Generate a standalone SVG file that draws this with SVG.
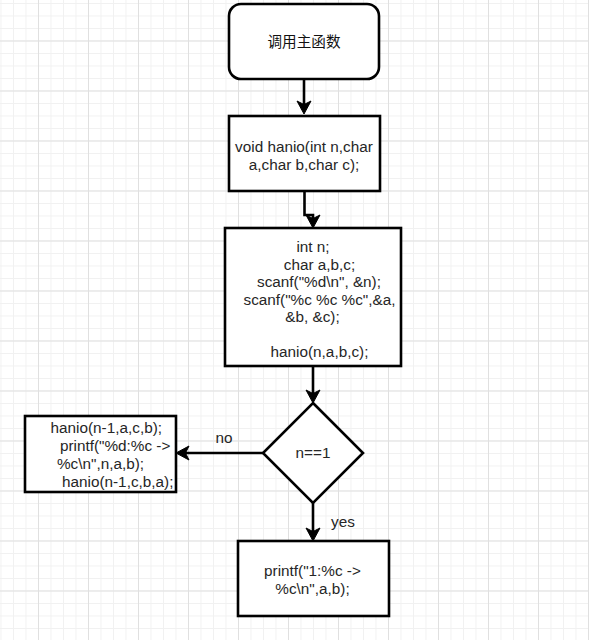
<svg xmlns="http://www.w3.org/2000/svg" width="589" height="640" viewBox="0 0 589 640">
<style>
.box{fill:#ffffff;stroke:#000000;stroke-width:2.6}
.edge{fill:none;stroke:#000000;stroke-width:2.6}
.t{font-family:"Liberation Sans",Arial,"Noto Sans CJK SC",sans-serif;font-size:15.3px;fill:#262626;text-anchor:middle}
.cjk{font-family:"Noto Sans CJK SC","Liberation Sans",sans-serif;font-size:14.6px;fill:#111111;text-anchor:middle}
</style>
<defs>
<pattern id="minor" patternUnits="userSpaceOnUse" x="38" y="40.5" width="12.5" height="12.5">
<path d="M0.5,0 V12.5 M0,0.5 H12.5" stroke="#f1f1f1" stroke-width="1" fill="none"/>
</pattern>
<pattern id="major" patternUnits="userSpaceOnUse" x="38" y="40.5" width="50" height="50">
<path d="M0.5,0 V50 M0,0.5 H50" stroke="#e0e0e0" stroke-width="1" fill="none"/>
</pattern>
<marker id="arr" markerUnits="userSpaceOnUse" markerWidth="16" markerHeight="16" viewBox="0 0 16 16" refX="6" refY="8" orient="auto">
<path d="M2,1 L15,8 L2,15 L5.5,8 Z" fill="#000000" stroke="#000000" stroke-width="1" stroke-linejoin="miter"/>
</marker>
</defs>
<rect width="589" height="640" fill="#ffffff"/>
<rect width="589" height="640" fill="url(#minor)"/>
<rect width="589" height="640" fill="url(#major)"/>

<g id="connectors">
<path class="edge" d="M304,80 V105" marker-end="url(#arr)"/>
<path class="edge" d="M304.5,191 V215 H313 V219" marker-end="url(#arr)"/>
<path class="edge" d="M313,366 V394" marker-end="url(#arr)"/>
<path class="edge" d="M263,453 H185" marker-end="url(#arr)"/>
<path class="edge" d="M313,503 V532" marker-end="url(#arr)"/>
<text class="t" x="224" y="443">no</text>
<text class="t" x="343" y="527">yes</text>
</g>

<g id="start">
<rect class="box" x="229" y="4" width="150" height="75" rx="12" ry="12"/>
<text class="cjk" x="304" y="47">调用主函数</text>
</g>

<g id="decl">
<rect class="box" x="229" y="116" width="151" height="75"/>
<text class="t" x="304" y="152">void hanio(int n,char</text>
<text class="t" x="304" y="170">a,char b,char c);</text>
</g>

<g id="main">
<rect class="box" x="225" y="228" width="176" height="138"/>
<text class="t" x="313" y="252">int n;</text>
<text class="t" x="319.5" y="269.5">char a,b,c;</text>
<text class="t" x="319" y="287">scanf("%d\n", &amp;n);</text>
<text class="t" x="319.5" y="304.5">scanf("%c %c %c",&amp;a,</text>
<text class="t" x="312.5" y="322">&amp;b, &amp;c);</text>
<text class="t" x="319.5" y="357">hanio(n,a,b,c);</text>
</g>

<g id="cond">
<path class="box" d="M313,403 L363,453 L313,503 L263,453 Z"/>
<text class="t" x="313" y="458">n==1</text>
</g>

<g id="recurse">
<rect class="box" x="25" y="416" width="151" height="76"/>
<text class="t" x="106.3" y="433">hanio(n-1,a,c,b);</text>
<text class="t" x="115.2" y="451">printf("%d:%c -&gt;</text>
<text class="t" x="100.5" y="469">%c\n",n,a,b);</text>
<text class="t" x="117.7" y="487">hanio(n-1,c,b,a);</text>
</g>

<g id="base">
<rect class="box" x="238" y="541" width="151" height="75"/>
<text class="t" x="312.5" y="576">printf("1:%c -&gt;</text>
<text class="t" x="312.5" y="594">%c\n",a,b);</text>
</g>
</svg>
